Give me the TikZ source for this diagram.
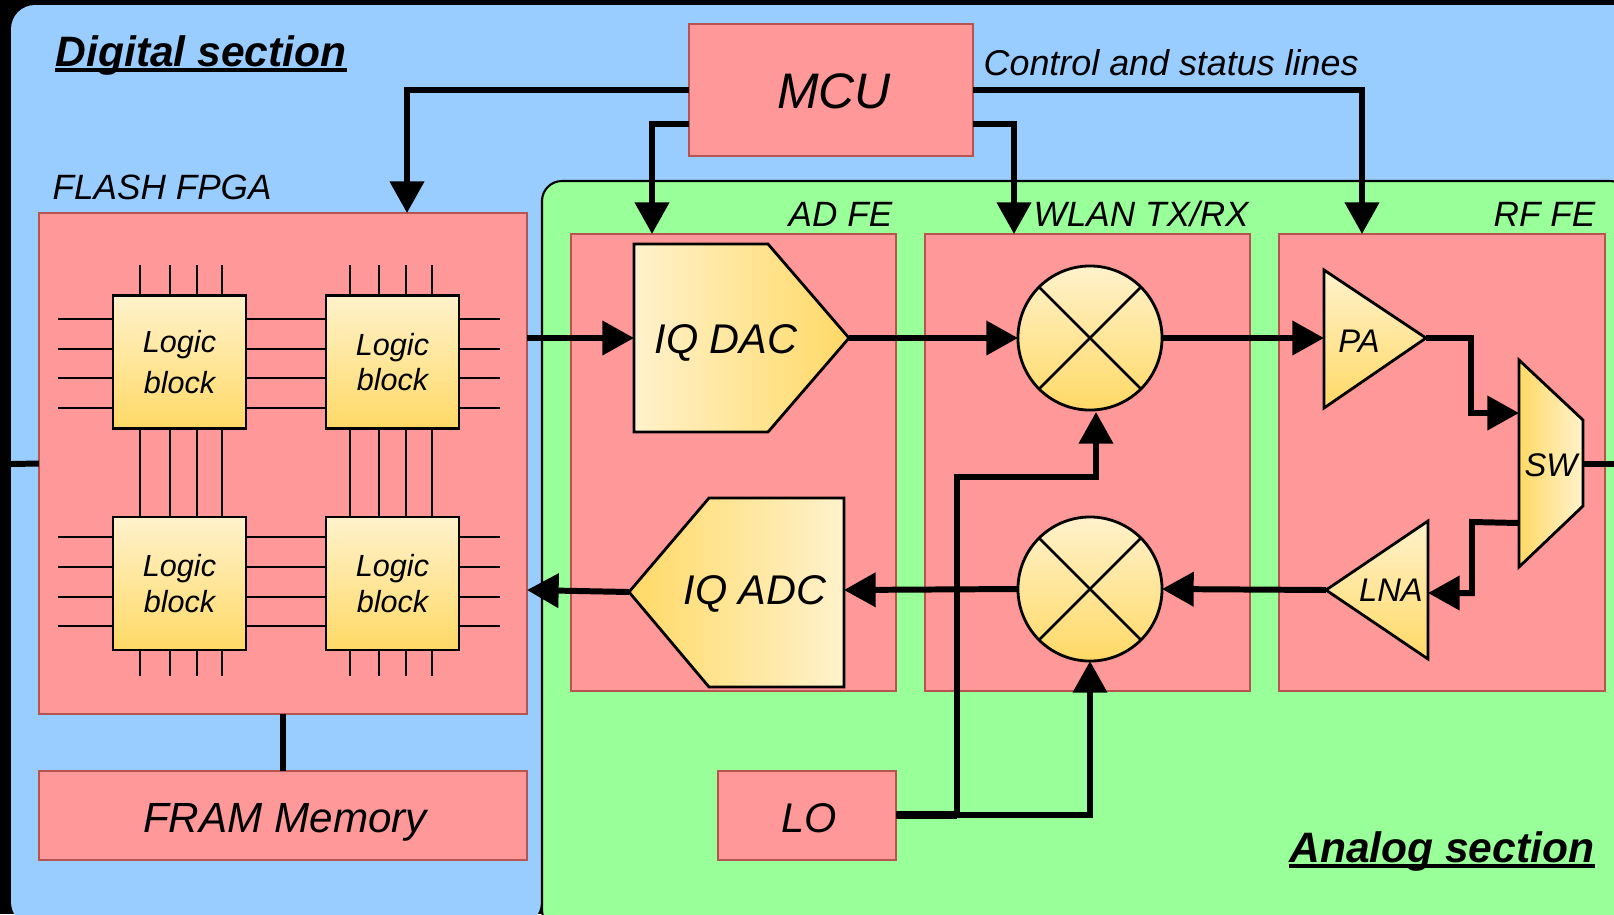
\documentclass[tikz,border=0pt]{standalone}
\usepackage{fontspec}
\setmainfont{Liberation Sans}
\usetikzlibrary{arrows.meta}
\definecolor{panelblue}{HTML}{99CCFF}
\definecolor{panelgreen}{HTML}{99FF99}
\definecolor{boxred}{HTML}{FF9999}
\definecolor{boxredline}{HTML}{B85450}
\definecolor{goldlight}{HTML}{FFF2CC}
\definecolor{golddark}{HTML}{FFD966}
\tikzset{
	redbox/.style={draw=boxredline,fill=boxred,line width=.7pt,inner sep=0pt,outer sep=0pt},
	goldv/.style={draw=black,line width=.8pt,top color=goldlight,bottom color=golddark},
	goldr/.style={draw=black,line width=.8pt,left color=golddark,right color=goldlight},
	goldl/.style={draw=black,line width=.8pt,left color=goldlight,right color=golddark},
	sig/.style={line width=1.7pt,-{Triangle[length=9pt,width=9.5pt]}},
	wire/.style={line width=1.7pt},
	pin/.style={line width=.75pt},
	lbl/.style={font=\fontsize{10}{11}\selectfont\itshape,inner sep=0pt},
	amplbl/.style={font=\fontsize{9.3}{11}\selectfont\itshape,inner sep=0pt},
	biglbl/.style={font=\fontsize{11.8}{14}\selectfont\itshape,inner sep=0pt},
	title/.style={font=\fontsize{12.1}{14}\selectfont\bfseries\itshape,inner sep=0pt},
	logicbox/.style={goldv,minimum size=1.33cm,inner sep=0pt,outer sep=0pt,align=center,font=\fontsize{8.7}{10}\selectfont\itshape},
	mixer/.style={goldv,circle,minimum size=1.44cm,inner sep=0pt,outer sep=0pt},
}
\begin{document}
\begin{tikzpicture}[x=.01cm,y=-.01cm]
	\clip (0,0) rectangle (1614,914);
	\fill[black] (0,0) rectangle (1614,914);

	% sections
	\fill[panelblue,rounded corners=.24cm] (11,5) -- (1660,5) -- (1660,240) -- (541,240) -- (541,926) -- (11,926) -- cycle;
	\draw[fill=panelgreen,line width=.6pt,rounded corners=.2cm] (542,181) rectangle (1630,930);
	\node[title,anchor=base west] (digital) at (55,66) {Digital section};
	\node[title,anchor=base east] (analog) at (1595,862) {Analog section};
	\draw[line width=.9pt] (55,70) -- (347,70);
	\draw[line width=.9pt] (1289,866) -- (1595,866);

	% red boxes
	\node[redbox,minimum width=4.88cm,minimum height=5.01cm] (fpga) at (283,463.5) {};
	\node[redbox,minimum width=4.88cm,minimum height=.89cm] (fram) at (283,815.5) {};
	\node[redbox,minimum width=2.84cm,minimum height=1.32cm] (mcu) at (831,90) {};
	\node[redbox,minimum width=3.25cm,minimum height=4.57cm] (adfe) at (733.5,462.5) {};
	\node[redbox,minimum width=3.25cm,minimum height=4.57cm] (wlan) at (1087.5,462.5) {};
	\node[redbox,minimum width=3.26cm,minimum height=4.57cm] (rffe) at (1442,462.5) {};
	\node[redbox,minimum width=1.78cm,minimum height=.89cm] (lo) at (807,815.5) {};

	% texts of the boxes
	\node[lbl,anchor=west] (fpgatxt) at (52,187) {FLASH FPGA};
	\node[lbl,anchor=east] (adtxt) at (893,214) {AD FE};
	\node[lbl,anchor=west] (wlantxt) at (1033,214) {WLAN TX/RX};
	\node[lbl,anchor=east] (rftxt) at (1596,214) {RF FE};
	\node[lbl,font=\fontsize{10.2}{11}\selectfont\itshape,anchor=west] (ctrltxt) at (983,63) {Control and status lines};
	\node[font=\fontsize{14.2}{16}\selectfont\itshape,inner sep=0pt] (mcutxt) at (834,91) {MCU};
	\node[biglbl,font=\fontsize{12}{14}\selectfont\itshape] (framtxt) at (285,822) {FRAM Memory};
	\node[biglbl] (lotxt) at (809,818) {LO};

	% pins of the logic blocks
	\foreach \x in {140,170,197,222,350,379,406,432} {
		\draw[pin] (\x,265) -- (\x,296);
		\draw[pin] (\x,428) -- (\x,517);
		\draw[pin] (\x,650) -- (\x,676);
	}
	\foreach \y in {319,349,378,408,537,567,597,626} {
		\draw[pin] (58,\y) -- (113,\y);
		\draw[pin] (246,\y) -- (326,\y);
		\draw[pin] (459,\y) -- (500,\y);
	}
	\node[logicbox] (blockA) at (179.5,362) {Logic\\[1.7pt]block};
	\node[logicbox] (blockB) at (392.5,362) {Logic\\block};
	\node[logicbox] (blockC) at (179.5,583.5) {Logic\\block};
	\node[logicbox] (blockD) at (392.5,583.5) {Logic\\block};

	% converters
	\shade[goldl] (634,244) -- (768,244) -- (849,338) -- (768,432) -- (634,432) -- cycle;
	\shade[goldr] (844,498) -- (709,498) -- (629,592) -- (709,687) -- (844,687) -- cycle;
	\node[biglbl] (dactxt) at (726,343) {IQ DAC};
	\node[biglbl] (adctxt) at (755,594) {IQ ADC};
	\coordinate (dacin) at (634,338);
	\coordinate (dacout) at (849,338);
	\coordinate (adcin) at (844,590);
	\coordinate (adcout) at (629,592);

	% mixers
	\node[mixer,draw] (mixup) at (1090,338) {};
	\node[mixer,draw] (mixdown) at (1090,589) {};
	\foreach \m in {mixup,mixdown} {
		\draw[pin] (\m.45) -- (\m.225);
		\draw[pin] (\m.135) -- (\m.315);
	}

	% amplifiers and switch
	\shade[goldv] (1324,270) -- (1426,338) -- (1324,408) -- cycle;
	\shade[goldv] (1428,521) -- (1326,590) -- (1428,659) -- cycle;
	\shade[goldr] (1519,360) -- (1583,420) -- (1583,506) -- (1519,567) -- cycle;
	\node[amplbl] (patxt) at (1359,341) {PA};
	\node[amplbl] (lnatxt) at (1391,590) {LNA};
	\node[amplbl] (swtxt) at (1551,465) {SW};
	\coordinate (pain) at (1324,338);
	\coordinate (paout) at (1426,338);
	\coordinate (lnain) at (1428,593);
	\coordinate (lnaout) at (1326,590);
	\coordinate (swtx) at (1519,413);
	\coordinate (swrx) at (1519,523);
	\coordinate (swant) at (1583,464);
	\coordinate (edgeright) at (1614,464);
	\coordinate (edgeleft) at (11,464);

	% control lines
	\coordinate (mculeft) at (689,124);
	\coordinate (mcuright) at (973,124);
	\coordinate (fpgain) at (407,213);
	\coordinate (adin) at (652,234);
	\coordinate (wlanin) at (1014,234);
	\coordinate (rfin) at (1362,234);
	\draw[sig] (mcu.west) -| (fpgain);
	\draw[sig] (mculeft) -| (adin);
	\draw[sig] (mcuright) -| (wlanin);
	\draw[sig] (mcu.east) -| (rfin);

	% tx path
	\coordinate (fpgaout) at (527,338);
	\draw[sig] (fpgaout) -- (dacin);
	\draw[sig] (dacout) -- (mixup.west);
	\draw[sig] (mixup.east) -- (pain);
	\draw[sig] (paout) -- (1471,338) -- (1471,413) -- (swtx);

	% rx path
	\draw[sig] (swrx) -- (1472,522) -- (1472,593) -- (lnain);
	\draw[sig] (lnaout) -- (mixdown.east);
	\draw[sig] (mixdown.west) -- (adcin);
	\coordinate (fpgaback) at (527,590);
	\draw[sig] (adcout) -- (fpgaback);

	% local oscillator
	\coordinate (loout) at (896,815);
	\coordinate (lojoin) at (957,815);
	\coordinate (mixupin) at (1096,412);
	\draw[sig] (loout) -| (mixdown.south);
	\draw[sig] (lojoin) -- (957,477) -- (1096,477) -- (mixupin);
	\draw[line width=2.5pt] (loout) -- (lojoin);

	% the rest
	\draw[wire] (fpga.south) -- (fram.north);
	\draw[wire] (edgeleft) -- (fpga.west);
	\draw[wire] (swant) -- (edgeright);
\end{tikzpicture}
\end{document}
